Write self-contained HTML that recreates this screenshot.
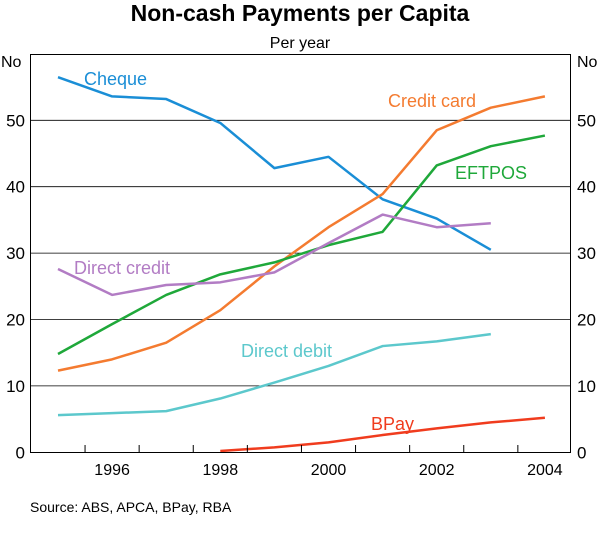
<!DOCTYPE html>
<html><head><meta charset="utf-8"><style>
body{margin:0;background:#fff}
svg{display:block;font-family:"Liberation Sans",Arial,sans-serif}
</style></head><body>
<svg id="c" width="600" height="543">
<text x="300" y="21" text-anchor="middle" font-size="23" font-weight="bold">Non-cash Payments per Capita</text>
<text x="300" y="48" text-anchor="middle" font-size="16">Per year</text>
<text x="30" y="512" font-size="14">Source: ABS, APCA, BPay, RBA</text>
<g id="grid"></g><g id="lines"></g>
<rect x="30.5" y="54.5" width="540" height="398" fill="none" stroke="#000" stroke-width="1"/>
<g id="ticks"></g>
</svg>
<script>
const years=[1995,1996,1997,1998,1999,2000,2001,2002,2003,2004];
const cheque=[56.5,53.6,53.2,49.6,42.8,44.5,38.1,35.2,30.5];
const creditCard=[12.3,14.0,16.5,21.4,28.0,33.9,38.9,48.5,51.9,53.6];
const eftpos=[14.8,19.3,23.7,26.8,28.6,31.2,33.2,43.2,46.1,47.7];
const directCredit=[27.6,23.7,25.2,25.6,27.1,31.5,35.8,33.9,34.5];
const directDebit=[5.6,5.9,6.2,8.1,10.5,13.0,16.0,16.7,17.8];
const bpayYears=[1998,1999,2000,2001,2002,2003,2004];
const bpay=[0.2,0.75,1.5,2.6,3.6,4.5,5.2];
const yTicks=[0,10,20,30,40,50];
const xLabels=[1996,1998,2000,2002,2004];
const NS="http://www.w3.org/2000/svg";
const X=y=>58+(y-1995)*54.1;
const Y=v=>452.3-v*6.64;
function mk(t,a,p){const e=document.createElementNS(NS,t);for(const k in a)e.setAttribute(k,a[k]);p.appendChild(e);return e;}
const grid=document.getElementById('grid'),ticks=document.getElementById('ticks'),lines=document.getElementById('lines');
yTicks.forEach(v=>{
 if(v>0&&v<60){const l=mk('line',{x1:30,x2:571,y1:Y(v),y2:Y(v),stroke:'#000','stroke-width':0.8},grid);
 
 }
 const a=mk('text',{x:25,y:Y(v)+6,'text-anchor':'end','font-size':17},ticks);a.textContent=v;
 
 
 const b=mk('text',{x:577,y:Y(v)+6,'font-size':17},ticks);b.textContent=v;
 
 
});
[['y-left-unit',1],['y-right-unit',577]].forEach(u=>{const t=mk('text',{x:u[1],y:67,'font-size':16},ticks);t.textContent='No';
 
 });
for(let y=1995;y<2004;y++){const l=mk('line',{x1:X(y+0.5),x2:X(y+0.5),y1:452,y2:445,stroke:'#000'},ticks);
 
 }
xLabels.forEach(y=>{const t=mk('text',{x:X(y),y:475,'text-anchor':'middle','font-size':16},ticks);t.textContent=y;
 
 });
function series(name,xs,vs,col,label,lx,ly){
 const p=mk('polyline',{points:vs.map((v,i)=>X(xs[i])+','+Y(v)).join(' '),fill:'none',stroke:col,'stroke-width':2.5,'stroke-linejoin':'round'},lines);
 
 
 const t=mk('text',{x:lx,y:ly,fill:col,'font-size':18},lines);t.textContent=label;
 
 
}
series('cheque',years,cheque,'#1a8ed6','Cheque',84,85);
series('credit-card',years,creditCard,'#f47b30','Credit card',388,107);
series('eftpos',years,eftpos,'#1fa83a','EFTPOS',455,179);
series('direct-credit',years,directCredit,'#b27cc4','Direct credit',74,274);
series('direct-debit',years,directDebit,'#5cc8cc','Direct debit',241,357);
series('bpay',bpayYears,bpay,'#f03c1e','BPay',371,430);
</script>
</body></html>
